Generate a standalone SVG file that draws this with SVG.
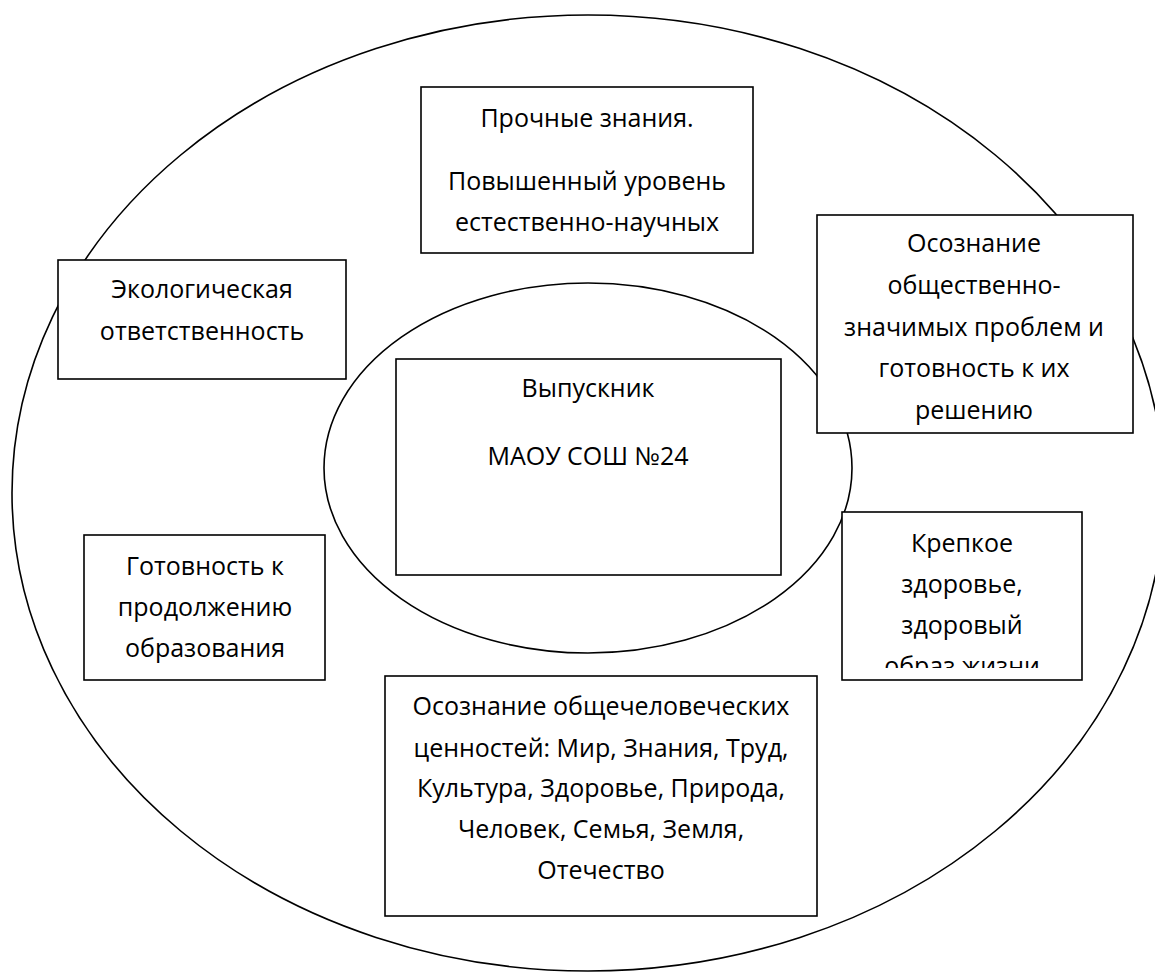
<svg xmlns="http://www.w3.org/2000/svg" width="1155" height="973" viewBox="0 0 1155 973">
<style>
.ell{fill:none;stroke:#000;stroke-width:1.6}
.box{fill:#fff;stroke:#000;stroke-width:1.6}
.t{font-family:"Open Sans","Noto Sans","Liberation Sans",sans-serif;font-size:25px;fill:#000;text-anchor:middle}
</style>
<defs>
<clipPath id="c2"><rect x="817" y="215" width="316" height="213"/></clipPath>
<clipPath id="c3"><rect x="842" y="512" width="240" height="156"/></clipPath>
</defs>
<g id="outer-ellipse"><ellipse class="ell" cx="588" cy="493" rx="576" ry="478"/></g>
<g id="inner-ellipse"><ellipse class="ell" cx="588" cy="468" rx="264" ry="185"/></g>
<g id="connectors"></g>
<g id="node-knowledge">
<rect class="box" x="421" y="87" width="332" height="166"/>
<text class="t" x="587" y="127">Прочные знания.</text>
<text class="t" x="587" y="190">Повышенный уровень</text>
<text class="t" x="587" y="231">естественно-научных</text>
</g>
<g id="node-awareness">
<rect class="box" x="817" y="215" width="316" height="218"/>
<g clip-path="url(#c2)">
<text class="t" x="974" y="252">Осознание</text>
<text class="t" x="974" y="294">общественно-</text>
<text class="t" x="974" y="336">значимых проблем и</text>
<text class="t" x="974" y="377">готовность к их</text>
<text class="t" x="974" y="419">решению</text>
</g>
</g>
<g id="node-ecology">
<rect class="box" x="58" y="260" width="288" height="119"/>
<text class="t" x="202" y="298">Экологическая</text>
<text class="t" x="202" y="340">ответственность</text>
</g>
<g id="node-graduate">
<rect class="box" x="396" y="359" width="385" height="216"/>
<text class="t" x="588" y="397">Выпускник</text>
<text class="t" x="588" y="465">МАОУ СОШ №24</text>
</g>
<g id="node-education">
<rect class="box" x="84" y="535" width="241" height="145"/>
<text class="t" x="205" y="575">Готовность к</text>
<text class="t" x="205" y="616">продолжению</text>
<text class="t" x="205" y="657">образования</text>
</g>
<g id="node-health">
<rect class="box" x="842" y="512" width="240" height="168"/>
<g clip-path="url(#c3)">
<text class="t" x="962" y="552">Крепкое</text>
<text class="t" x="962" y="593">здоровье,</text>
<text class="t" x="962" y="634">здоровый</text>
<text class="t" x="962" y="675">образ жизни</text>
</g>
</g>
<g id="node-values">
<rect class="box" x="385" y="676" width="432" height="240"/>
<text class="t" x="601" y="715">Осознание общечеловеческих</text>
<text class="t" x="601" y="757">ценностей: Мир, Знания, Труд,</text>
<text class="t" x="601" y="797">Культура, Здоровье, Природа,</text>
<text class="t" x="601" y="838">Человек, Семья, Земля,</text>
<text class="t" x="601" y="879">Отечество</text>
</g>
</svg>
